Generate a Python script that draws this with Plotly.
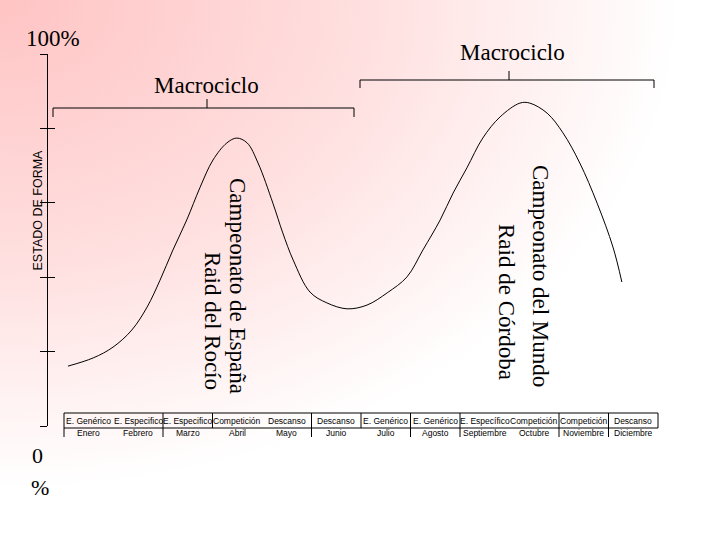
import base64
import plotly.graph_objects as go

# Estado de forma (%) a lo largo de la temporada (x en meses desde Enero)
curve_month = [0.08, 0.59, 0.99, 1.37, 1.68, 1.94, 2.20, 2.48, 2.75, 3.01, 3.29, 3.49,
               3.70, 3.92, 4.22, 4.42, 4.63, 4.97, 5.31, 5.72, 6.12, 6.53, 6.93, 7.25,
               7.60, 7.86, 8.14, 8.46, 8.81, 9.21, 9.41, 9.76, 10.08, 10.42, 10.77,
               11.09, 11.27]
curve_form = [16.1, 18.3, 21.2, 25.8, 32.0, 39.2, 47.3, 55.4, 64.2, 71.5, 76.1, 77.4,
              76.1, 70.7, 59.9, 51.9, 44.6, 36.0, 33.1, 31.5, 32.5, 35.8, 40.1, 47.3,
              55.4, 62.6, 69.4, 77.4, 83.1, 86.8, 86.8, 84.1, 78.8, 70.7, 59.9,
              48.1, 38.7]

months = ['Enero', 'Febrero', 'Marzo', 'Abril', 'Mayo', 'Junio', 'Julio', 'Agosto',
          'Septiembre', 'Octubre', 'Noviembre', 'Diciembre']
phases = ['E. Genérico', 'E. Especifico', 'E. Especifico', 'Competición', 'Descanso',
          'Descanso', 'E. Genérico', 'E. Genérico', 'E. Específico', 'Competición',
          'Competición', 'Descanso']
y_ticks = [0, 20, 40, 60, 80, 100]

# separadores de la tabla (limites de mes)
top_seps = [2, 3, 5, 6, 7, 8, 10, 11]
bottom_seps = [2, 5, 7, 8, 10, 11]

W, H = 720, 540
SERIF = 'Liberation Serif, Times New Roman, serif'
SANS = 'Liberation Sans, Arial, sans-serif'


def px(x):
    return x / W


def py(y):
    return 1 - y / H


# fondo degradado rosa -> blanco
svg = ('<svg xmlns="http://www.w3.org/2000/svg" width="720" height="540">'
       '<defs><radialGradient id="g" gradientUnits="userSpaceOnUse" cx="0" cy="0" r="680" '
       'gradientTransform="scale(1,0.72)">'
       '<stop offset="0" stop-color="#ffc4c4"/>'
       '<stop offset="0.55" stop-color="#ffe0e0"/>'
       '<stop offset="1" stop-color="#ffffff"/>'
       '</radialGradient></defs>'
       '<rect width="720" height="540" fill="url(#g)"/></svg>')
bg_src = 'data:image/svg+xml;base64,' + base64.b64encode(svg.encode()).decode()

fig = go.Figure()

fig.add_trace(go.Scatter(
    x=curve_month, y=curve_form, mode='lines',
    line=dict(color='black', width=1, shape='spline', smoothing=1.0),
    showlegend=False, hoverinfo='skip'
))
# traza vacia para el eje secundario (marcas hacia dentro)
fig.add_trace(go.Scatter(x=[None], y=[None], yaxis='y2', showlegend=False))

shapes = []
line = dict(color='black', width=1)


def seg(x0, y0, x1, y1):
    shapes.append(dict(type='line', xref='paper', yref='paper',
                       x0=px(x0), y0=py(y0), x1=px(x1), y1=py(y1), line=line))


# llaves de los macrociclos
seg(53, 108, 354, 108)
seg(53, 108, 53, 117)
seg(354, 108, 354, 117)
seg(207, 99, 207, 108)

seg(360, 80, 654, 80)
seg(360, 80, 360, 88)
seg(654, 80, 654, 88)
seg(509, 71, 509, 80)

# tabla de fases / meses
for yy in (413, 428):
    shapes.append(dict(type='line', xref='x', yref='paper', x0=0, x1=12,
                       y0=py(yy), y1=py(yy), line=line))
shapes.append(dict(type='line', xref='x', yref='paper', x0=0, x1=0,
                   y0=py(413), y1=py(437), line=line))
shapes.append(dict(type='line', xref='x', yref='paper', x0=12, x1=12,
                   y0=py(413), y1=py(428), line=line))
for s in top_seps:
    shapes.append(dict(type='line', xref='x', yref='paper', x0=s, x1=s,
                       y0=py(413), y1=py(428), line=line))
for s in bottom_seps:
    shapes.append(dict(type='line', xref='x', yref='paper', x0=s, x1=s,
                       y0=py(428), y1=py(437), line=line))

annotations = []


def txt(x, y, text, size, family=SERIF, angle=0, xref='paper'):
    annotations.append(dict(
        x=x if xref == 'x' else px(x), y=py(y), xref=xref, yref='paper',
        text=text, showarrow=False, textangle=angle,
        xanchor='center', yanchor='middle',
        font=dict(family=family, size=size, color='black')
    ))


for i, (ph, mo) in enumerate(zip(phases, months)):
    txt(i + 0.5, 420.5, ph, 8.5, SANS, xref='x')
    txt(i + 0.5, 433, mo, 8.5, SANS, xref='x')

txt(53, 38, '100%', 23)
txt(37, 455, '0', 22)
txt(40, 487, '%', 22)
txt(207, 86, 'Macrociclo', 23)
txt(512, 52, 'Macrociclo', 23)
txt(37.5, 210, 'ESTADO DE FORMA', 12.5, SANS, angle=-90)

txt(238, 286, 'Campeonato de España', 23, angle=90)
txt(213, 321, 'Raid del Rocío', 23, angle=90)
txt(541, 276, 'Campeonato del Mundo', 23, angle=90)
txt(507, 302, 'Raid de Córdoba', 23, angle=90)

yaxis_common = dict(
    range=[0, 100], domain=[py(426), py(54)], anchor='free', position=px(47),
    showline=True, linecolor='black', linewidth=1, showgrid=False, zeroline=False,
    tickvals=y_ticks, showticklabels=False, ticklen=7, tickcolor='black', tickwidth=1
)

fig.update_layout(
    width=W, height=H,
    margin=dict(l=0, r=0, t=0, b=0),
    paper_bgcolor='white',
    plot_bgcolor='rgba(0,0,0,0)',
    xaxis=dict(range=[(0 - 64) / 49.5, (W - 64) / 49.5], visible=False, fixedrange=True),
    yaxis=dict(ticks='outside', **yaxis_common),
    yaxis2=dict(ticks='inside', overlaying='y', side='left', **yaxis_common),
    shapes=shapes,
    annotations=annotations,
    images=[dict(source=bg_src, xref='paper', yref='paper', x=0, y=1,
                 sizex=1, sizey=1, xanchor='left', yanchor='top',
                 sizing='stretch', layer='below')],
    showlegend=False,
)

# sin el margen por defecto del <body>, para que la figura ocupe toda la ventana
fig.write_html('out.html', config={'displayModeBar': False},
               post_script="document.body.style.margin='0px';")
